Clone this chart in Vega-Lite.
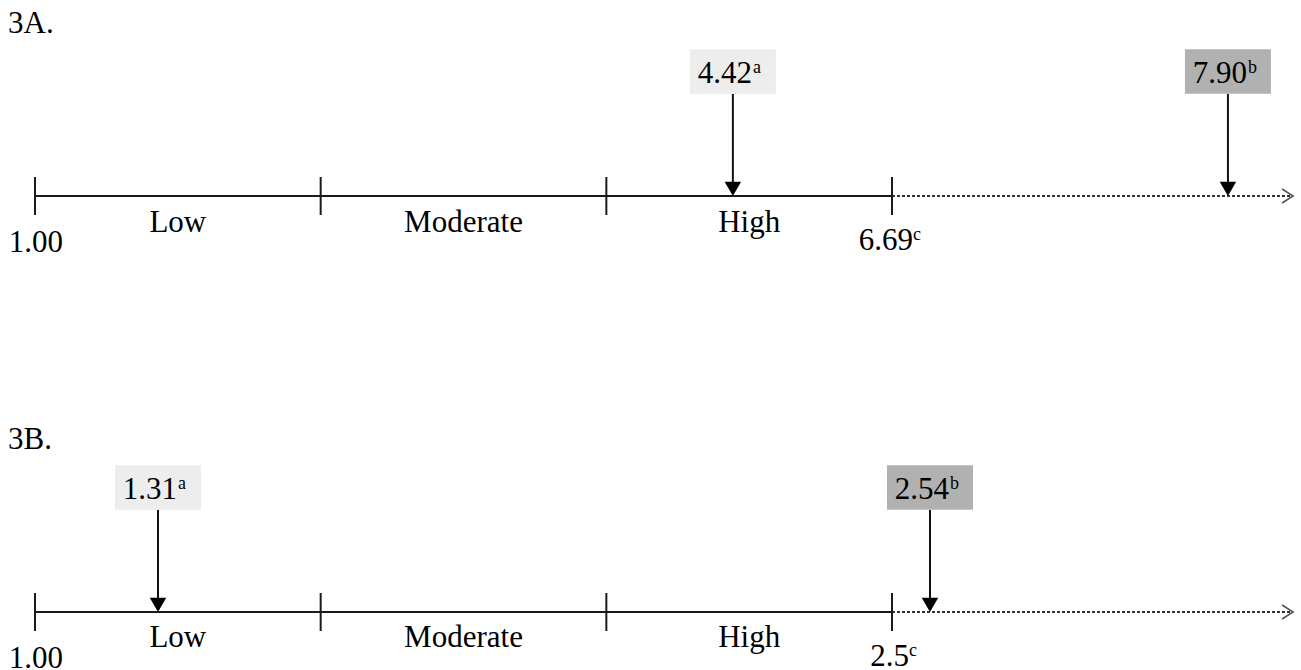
{
  "$schema": "https://vega.github.io/schema/vega-lite/v6.json",
  "background": "white",
  "padding": 0,
  "spacing": 0,
  "config": {"view": {"stroke": null}, "concat": {"spacing": 0}},
  "resolve": {"scale": {"y": "independent", "x": "shared", "color": "shared"}},
  "datasets": {
    "segs": [
      {"panel": "A", "style": "solid", "from": 0, "to": 3},
      {"panel": "A", "style": "dotted", "from": 3, "to": 4.404},
      {"panel": "B", "style": "solid", "from": 0, "to": 3},
      {"panel": "B", "style": "dotted", "from": 3, "to": 4.404}
    ],
    "ticks": [
      {"panel": "A", "pos": 0}, {"panel": "A", "pos": 1}, {"panel": "A", "pos": 2}, {"panel": "A", "pos": 3},
      {"panel": "B", "pos": 0}, {"panel": "B", "pos": 1}, {"panel": "B", "pos": 2}, {"panel": "B", "pos": 3}
    ],
    "cats": [
      {"panel": "A", "label": "Low", "pos": 0.5},
      {"panel": "A", "label": "Moderate", "pos": 1.5},
      {"panel": "A", "label": "High", "pos": 2.5},
      {"panel": "B", "label": "Low", "pos": 0.5},
      {"panel": "B", "label": "Moderate", "pos": 1.5},
      {"panel": "B", "label": "High", "pos": 2.5}
    ],
    "starts": [
      {"panel": "A", "label": "1.00", "pos": 0},
      {"panel": "B", "label": "1.00", "pos": 0}
    ],
    "cutoffs": [
      {"panel": "A", "label": "6.69", "sup": "c", "pos": 3},
      {"panel": "B", "label": "2.5", "sup": "c", "pos": 3}
    ],
    "markers": [
      {"panel": "A", "label": "4.42", "sup": "a", "tier": "a", "pos": 2.443},
      {"panel": "A", "label": "7.90", "sup": "b", "tier": "b", "pos": 4.176},
      {"panel": "B", "label": "1.31", "sup": "a", "tier": "a", "pos": 0.4306},
      {"panel": "B", "label": "2.54", "sup": "b", "tier": "b", "pos": 3.133}
    ],
    "titles": [
      {"panel": "A", "label": "3A."},
      {"panel": "B", "label": "3B."}
    ]
  },
  "vconcat": [
    {
      "width": 1301,
      "height": 416,
      "layer": [
        {
          "data": {"name": "segs"},
          "transform": [{"filter": "datum.panel === 'A' && datum.style === 'solid'"}],
          "mark": {"type": "rule", "color": "#1a1a1a", "strokeWidth": 2},
          "encoding": {
            "x": {"field": "from", "type": "quantitative", "scale": {"domain": [-0.12252, 4.43173], "nice": false, "zero": false}, "axis": null},
            "x2": {"field": "to"},
            "y": {"datum": 0, "type": "quantitative", "scale": {"domain": [-2.2, 1.96], "nice": false, "zero": false}, "axis": null}
          }
        },
        {
          "data": {"name": "segs"},
          "transform": [{"filter": "datum.panel === 'A' && datum.style === 'dotted'"}],
          "mark": {"type": "rule", "color": "#333", "strokeWidth": 2, "strokeDash": [3, 2]},
          "encoding": {
            "x": {"field": "from", "type": "quantitative"},
            "x2": {"field": "to"},
            "y": {"datum": 0, "type": "quantitative"}
          }
        },
        {
          "data": {"name": "segs"},
          "transform": [{"filter": "datum.panel === 'A' && datum.style === 'dotted'"}],
          "mark": {"type": "point", "shape": "M-1.57,-1L0,0L-1.57,1", "filled": false, "stroke": "#555", "strokeWidth": 1.6, "size": 196, "opacity": 1},
          "encoding": {
            "x": {"field": "to", "type": "quantitative"},
            "y": {"datum": 0, "type": "quantitative"}
          }
        },
        {
          "data": {"name": "ticks"},
          "transform": [{"filter": "datum.panel === 'A'"}],
          "mark": {"type": "rule", "color": "#1a1a1a", "strokeWidth": 2},
          "encoding": {
            "x": {"field": "pos", "type": "quantitative"},
            "y": {"datum": -0.19, "type": "quantitative"},
            "y2": {"datum": 0.19}
          }
        },
        {
          "data": {"name": "cats"},
          "transform": [{"filter": "datum.panel === 'A'"}],
          "mark": {"type": "text", "font": "Liberation Serif", "fontSize": 31, "color": "#000", "align": "center", "baseline": "alphabetic", "dy": 36},
          "encoding": {
            "x": {"field": "pos", "type": "quantitative"},
            "y": {"datum": 0, "type": "quantitative"},
            "text": {"field": "label"}
          }
        },
        {
          "data": {"name": "starts"},
          "transform": [{"filter": "datum.panel === 'A'"}],
          "mark": {"type": "text", "font": "Liberation Serif", "fontSize": 31, "color": "#000", "align": "center", "baseline": "alphabetic", "dx": 1, "dy": 56},
          "encoding": {
            "x": {"field": "pos", "type": "quantitative"},
            "y": {"datum": 0, "type": "quantitative"},
            "text": {"field": "label"}
          }
        },
        {
          "data": {"name": "cutoffs"},
          "transform": [{"filter": "datum.panel === 'A'"}],
          "mark": {"type": "text", "font": "Liberation Serif", "fontSize": 31, "color": "#000", "align": "right", "baseline": "alphabetic", "dx": 21, "dy": 54},
          "encoding": {
            "x": {"field": "pos", "type": "quantitative"},
            "y": {"datum": 0, "type": "quantitative"},
            "text": {"field": "label"}
          }
        },
        {
          "data": {"name": "cutoffs"},
          "transform": [{"filter": "datum.panel === 'A'"}],
          "mark": {"type": "text", "font": "Liberation Serif", "fontSize": 18, "color": "#000", "align": "left", "baseline": "alphabetic", "dx": 21, "dy": 44},
          "encoding": {
            "x": {"field": "pos", "type": "quantitative"},
            "y": {"datum": 0, "type": "quantitative"},
            "text": {"field": "sup"}
          }
        },
        {
          "data": {"name": "markers"},
          "transform": [{"filter": "datum.panel === 'A'"}],
          "mark": {"type": "point", "shape": "M-1,-0.52L1,-0.52L1,0.52L-1,0.52Z", "filled": true, "size": 7396, "opacity": 1, "strokeWidth": 0},
          "encoding": {
            "x": {"field": "pos", "type": "quantitative"},
            "y": {"datum": 1.245, "type": "quantitative"},
            "color": {"field": "tier", "type": "nominal", "scale": {"domain": ["a", "b"], "range": ["#ededed", "#b1b1b1"]}, "legend": null}
          }
        },
        {
          "data": {"name": "markers"},
          "transform": [{"filter": "datum.panel === 'A'"}],
          "mark": {"type": "rule", "color": "#111", "strokeWidth": 2},
          "encoding": {
            "x": {"field": "pos", "type": "quantitative"},
            "y": {"datum": 1.02, "type": "quantitative"},
            "y2": {"datum": 0.12}
          }
        },
        {
          "data": {"name": "markers"},
          "transform": [{"filter": "datum.panel === 'A'"}],
          "mark": {"type": "point", "shape": "triangle-down", "filled": true, "color": "#000", "size": 272, "opacity": 1},
          "encoding": {
            "x": {"field": "pos", "type": "quantitative"},
            "y": {"datum": 0.0714, "type": "quantitative"}
          }
        },
        {
          "data": {"name": "markers"},
          "transform": [{"filter": "datum.panel === 'A'"}],
          "mark": {"type": "text", "font": "Liberation Serif", "fontSize": 31, "color": "#000", "align": "right", "baseline": "alphabetic", "dx": 19, "dy": 11},
          "encoding": {
            "x": {"field": "pos", "type": "quantitative"},
            "y": {"datum": 1.245, "type": "quantitative"},
            "text": {"field": "label"}
          }
        },
        {
          "data": {"name": "markers"},
          "transform": [{"filter": "datum.panel === 'A'"}],
          "mark": {"type": "text", "font": "Liberation Serif", "fontSize": 18, "color": "#000", "align": "left", "baseline": "alphabetic", "dx": 20, "dy": 1},
          "encoding": {
            "x": {"field": "pos", "type": "quantitative"},
            "y": {"datum": 1.245, "type": "quantitative"},
            "text": {"field": "sup"}
          }
        },
        {
          "data": {"name": "titles"},
          "transform": [{"filter": "datum.panel === 'A'"}],
          "mark": {"type": "text", "font": "Liberation Serif", "fontSize": 31, "color": "#000", "align": "left", "baseline": "alphabetic"},
          "encoding": {
            "x": {"datum": -0.0945, "type": "quantitative"},
            "y": {"datum": 1.635, "type": "quantitative"},
            "text": {"field": "label"}
          }
        }
      ]
    },
    {
      "width": 1301,
      "height": 254,
      "layer": [
        {
          "data": {"name": "segs"},
          "transform": [{"filter": "datum.panel === 'B' && datum.style === 'solid'"}],
          "mark": {"type": "rule", "color": "#1a1a1a", "strokeWidth": 2},
          "encoding": {
            "x": {"field": "from", "type": "quantitative", "scale": {"domain": [-0.12252, 4.43173], "nice": false, "zero": false}, "axis": null},
            "x2": {"field": "to"},
            "y": {"datum": 0, "type": "quantitative", "scale": {"domain": [-0.58, 1.96], "nice": false, "zero": false}, "axis": null}
          }
        },
        {
          "data": {"name": "segs"},
          "transform": [{"filter": "datum.panel === 'B' && datum.style === 'dotted'"}],
          "mark": {"type": "rule", "color": "#333", "strokeWidth": 2, "strokeDash": [3, 2]},
          "encoding": {
            "x": {"field": "from", "type": "quantitative"},
            "x2": {"field": "to"},
            "y": {"datum": 0, "type": "quantitative"}
          }
        },
        {
          "data": {"name": "segs"},
          "transform": [{"filter": "datum.panel === 'B' && datum.style === 'dotted'"}],
          "mark": {"type": "point", "shape": "M-1.57,-1L0,0L-1.57,1", "filled": false, "stroke": "#555", "strokeWidth": 1.6, "size": 196, "opacity": 1},
          "encoding": {
            "x": {"field": "to", "type": "quantitative"},
            "y": {"datum": 0, "type": "quantitative"}
          }
        },
        {
          "data": {"name": "ticks"},
          "transform": [{"filter": "datum.panel === 'B'"}],
          "mark": {"type": "rule", "color": "#1a1a1a", "strokeWidth": 2},
          "encoding": {
            "x": {"field": "pos", "type": "quantitative"},
            "y": {"datum": -0.19, "type": "quantitative"},
            "y2": {"datum": 0.19}
          }
        },
        {
          "data": {"name": "cats"},
          "transform": [{"filter": "datum.panel === 'B'"}],
          "mark": {"type": "text", "font": "Liberation Serif", "fontSize": 31, "color": "#000", "align": "center", "baseline": "alphabetic", "dy": 35, "clip": true},
          "encoding": {
            "x": {"field": "pos", "type": "quantitative"},
            "y": {"datum": 0, "type": "quantitative"},
            "text": {"field": "label"}
          }
        },
        {
          "data": {"name": "starts"},
          "transform": [{"filter": "datum.panel === 'B'"}],
          "mark": {"type": "text", "font": "Liberation Serif", "fontSize": 31, "color": "#000", "align": "center", "baseline": "alphabetic", "dx": 1, "dy": 56, "clip": true},
          "encoding": {
            "x": {"field": "pos", "type": "quantitative"},
            "y": {"datum": 0, "type": "quantitative"},
            "text": {"field": "label"}
          }
        },
        {
          "data": {"name": "cutoffs"},
          "transform": [{"filter": "datum.panel === 'B'"}],
          "mark": {"type": "text", "font": "Liberation Serif", "fontSize": 31, "color": "#000", "align": "right", "baseline": "alphabetic", "dx": 17, "dy": 54, "clip": true},
          "encoding": {
            "x": {"field": "pos", "type": "quantitative"},
            "y": {"datum": 0, "type": "quantitative"},
            "text": {"field": "label"}
          }
        },
        {
          "data": {"name": "cutoffs"},
          "transform": [{"filter": "datum.panel === 'B'"}],
          "mark": {"type": "text", "font": "Liberation Serif", "fontSize": 18, "color": "#000", "align": "left", "baseline": "alphabetic", "dx": 17, "dy": 44, "clip": true},
          "encoding": {
            "x": {"field": "pos", "type": "quantitative"},
            "y": {"datum": 0, "type": "quantitative"},
            "text": {"field": "sup"}
          }
        },
        {
          "data": {"name": "markers"},
          "transform": [{"filter": "datum.panel === 'B'"}],
          "mark": {"type": "point", "shape": "M-1,-0.52L1,-0.52L1,0.52L-1,0.52Z", "filled": true, "size": 7396, "opacity": 1, "strokeWidth": 0},
          "encoding": {
            "x": {"field": "pos", "type": "quantitative"},
            "y": {"datum": 1.245, "type": "quantitative"},
            "color": {"field": "tier", "type": "nominal", "scale": {"domain": ["a", "b"], "range": ["#ededed", "#b1b1b1"]}, "legend": null}
          }
        },
        {
          "data": {"name": "markers"},
          "transform": [{"filter": "datum.panel === 'B'"}],
          "mark": {"type": "rule", "color": "#111", "strokeWidth": 2},
          "encoding": {
            "x": {"field": "pos", "type": "quantitative"},
            "y": {"datum": 1.02, "type": "quantitative"},
            "y2": {"datum": 0.12}
          }
        },
        {
          "data": {"name": "markers"},
          "transform": [{"filter": "datum.panel === 'B'"}],
          "mark": {"type": "point", "shape": "triangle-down", "filled": true, "color": "#000", "size": 272, "opacity": 1},
          "encoding": {
            "x": {"field": "pos", "type": "quantitative"},
            "y": {"datum": 0.0714, "type": "quantitative"}
          }
        },
        {
          "data": {"name": "markers"},
          "transform": [{"filter": "datum.panel === 'B'"}],
          "mark": {"type": "text", "font": "Liberation Serif", "fontSize": 31, "color": "#000", "align": "right", "baseline": "alphabetic", "dx": 19, "dy": 11},
          "encoding": {
            "x": {"field": "pos", "type": "quantitative"},
            "y": {"datum": 1.245, "type": "quantitative"},
            "text": {"field": "label"}
          }
        },
        {
          "data": {"name": "markers"},
          "transform": [{"filter": "datum.panel === 'B'"}],
          "mark": {"type": "text", "font": "Liberation Serif", "fontSize": 18, "color": "#000", "align": "left", "baseline": "alphabetic", "dx": 20, "dy": 1},
          "encoding": {
            "x": {"field": "pos", "type": "quantitative"},
            "y": {"datum": 1.245, "type": "quantitative"},
            "text": {"field": "sup"}
          }
        },
        {
          "data": {"name": "titles"},
          "transform": [{"filter": "datum.panel === 'B'"}],
          "mark": {"type": "text", "font": "Liberation Serif", "fontSize": 31, "color": "#000", "align": "left", "baseline": "alphabetic"},
          "encoding": {
            "x": {"datum": -0.0945, "type": "quantitative"},
            "y": {"datum": 1.635, "type": "quantitative"},
            "text": {"field": "label"}
          }
        }
      ]
    }
  ]
}
